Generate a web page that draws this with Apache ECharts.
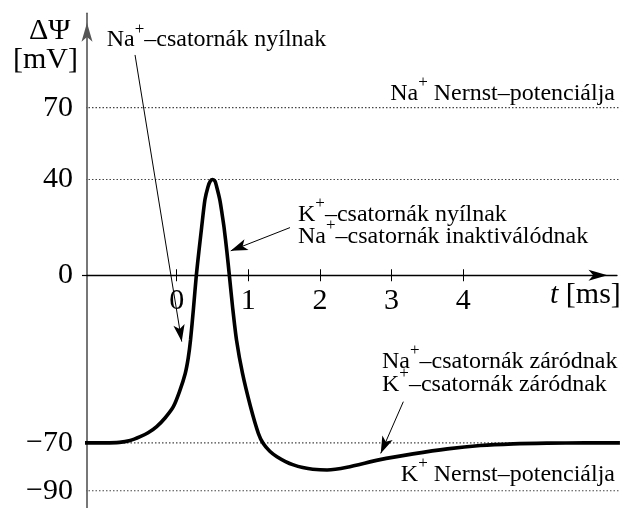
<!DOCTYPE html>
<html>
<head>
<meta charset="utf-8">
<script src="https://cdn.jsdelivr.net/npm/echarts@6/dist/echarts.min.js"></script>
<style>
  html, body { margin: 0; padding: 0; background: #fff; }
  #chart { width: 622px; height: 508px; }
</style>
</head>
<body>
<div id="chart"></div>
<script>
// Action potential: membrane potential (mV) against time (ms)
const timeMs = [-1.33, -1.0, -0.8, -0.65, -0.51, -0.4, -0.28, -0.16, -0.047, 0.04,
  0.119, 0.161, 0.193, 0.235, 0.274, 0.310, 0.348, 0.394, 0.437, 0.468,
  0.503, 0.534, 0.556, 0.602, 0.633, 0.661, 0.700, 0.735, 0.781, 0.835,
  0.919, 1.031, 1.140, 1.209, 1.30, 1.40, 1.52, 1.63, 1.76, 1.90,
  2.10, 2.38, 2.84, 3.30, 3.78, 4.24, 4.70, 5.17, 5.7, 6.19];
const potentialMv = [-70, -70, -69.8, -69.0, -67.4, -65.8, -63.2, -59.5, -54.9, -48.5,
  -41, -34.5, -27, -13.5, 0, 10, 20, 31.5, 37, 39.3,
  40, 39.3, 37.2, 31.5, 25.7, 20, 10, 0, -13.5, -27,
  -41, -54.9, -66, -70.3, -73.5, -75.8, -77.8, -79.2, -80.3, -81,
  -81.3, -80.2, -77, -74.6, -72.5, -71.1, -70.4, -70.1, -70, -70];

// dotted reference levels: Na+ Nernst, peak, resting, K+ Nernst
const levelValues = [70, 40, -70, -90];
const levelSpan = [-1.33, 6.4];

const xTickValues = [0, 1, 2, 3, 4];
const yTickValues = [70, 40, 0, -70, -90];

// annotation arrows: [from, to] in (ms, mV)
const arrowNaOpen = [[-0.582, 92.0], [0.070, -27.7]];
const arrowKOpen = [[1.582, 19.9], [0.754, 10.2]];
const arrowClose = [[3.165, -52.8], [2.849, -74.4]];

const X_MIN = -1.253, X_MAX = 6.149;
const Y_MIN = -97.2, Y_MAX = 109.4;
const GRID = { left: 87, right: 5, top: 13.3, bottom: 0 };
const H = 508;
// pixel row of the zero line, used to shift the time axis onto it
const zeroRow = GRID.top + (Y_MAX / (Y_MAX - Y_MIN)) * (H - GRID.top - GRID.bottom);

const SERIF = "'Liberation Serif', 'DejaVu Serif', serif";

const RICH = {
  n: { fontSize: 24, fontFamily: SERIF, color: '#000', verticalAlign: 'middle' },
  s: { fontSize: 17, fontFamily: SERIF, color: '#000', verticalAlign: 'middle', padding: [0, 0, 22, 0] }
};
const sup = (a, b) => `{n|${a}}{s|+}{n|${b}}`;

function note(x, y, text, align) {
  return {
    type: 'text', x: x, y: y, silent: true,
    style: { text: text, rich: RICH, align: align || 'left', verticalAlign: 'top', fill: '#000' }
  };
}
function plain(x, y, text) {
  return {
    type: 'text', x: x, y: y, silent: true,
    style: { text: text, fontSize: 30, fontFamily: SERIF, fill: '#000', align: 'left', verticalAlign: 'middle' }
  };
}

const arrowData = [arrowNaOpen, arrowKOpen, arrowClose].map(([a, b]) => [
  { coord: a, symbol: 'none' },
  { coord: b, symbol: 'arrow', symbolSize: [8.5, 17] }
]);

const levelSeries = levelValues.map(v => ({
  type: 'line',
  data: [[levelSpan[0], v], [levelSpan[1], v]],
  showSymbol: false,
  clip: false,
  silent: true,
  z: 2,
  lineStyle: { color: '#444', width: 1.1, type: [1.5, 2] }
}));

const chart = echarts.init(document.getElementById('chart'), null, { renderer: 'canvas' });
chart.setOption({
  animation: false,
  backgroundColor: '#fff',
  grid: Object.assign({ containLabel: false, outerBoundsMode: 'none' }, GRID),
  xAxis: [
    {
      type: 'value', min: X_MIN, max: X_MAX, position: 'bottom',
      offset: -(H - GRID.bottom - zeroRow),
      axisLine: {
        show: true, onZero: false, symbol: ['none', 'arrow'], symbolSize: [8.25, 19], symbolOffset: [0, -9.5],
        lineStyle: { color: '#000', width: 1.3 }
      },
      axisTick: { show: true, length: 6, customValues: xTickValues, lineStyle: { color: '#000', width: 1 } },
      axisLabel: { customValues: xTickValues, fontSize: 30, fontFamily: SERIF, color: '#000', margin: 11 },
      splitLine: { show: false }
    },
    {
      type: 'value', min: X_MIN, max: X_MAX, position: 'top',
      offset: -(zeroRow - GRID.top),
      axisLine: { show: true, onZero: false, lineStyle: { color: '#000', opacity: 0 } },
      axisTick: { show: true, length: 6, customValues: xTickValues, lineStyle: { color: '#000', width: 1, opacity: 1 } },
      axisLabel: { show: false },
      splitLine: { show: false }
    }
  ],
  yAxis: {
    type: 'value', min: Y_MIN, max: Y_MAX, position: 'left',
    axisLine: {
      show: true, onZero: false, symbol: ['none', 'arrow'], symbolSize: [8.25, 19], symbolOffset: [0, -9.5],
      lineStyle: { color: '#555', width: 1.6 }
    },
    axisTick: { show: true, length: 5, customValues: [0], lineStyle: { color: '#000', width: 1.2 } },
    axisLabel: {
      customValues: yTickValues, fontSize: 30, fontFamily: SERIF, color: '#000', margin: 14,
      formatter: v => (v < 0 ? '\u2212' + Math.abs(v) : String(v))
    },
    splitLine: { show: false }
  },
  series: [
    ...levelSeries,
    {
      type: 'line',
      data: timeMs.map((t, i) => [t, potentialMv[i]]),
      showSymbol: false,
      smooth: 0.25,
      clip: false,
      silent: true,
      z: 5,
      lineStyle: { color: '#000', width: 3.6 },
      markLine: {
        silent: true,
        animation: false,
        emphasis: { disabled: true },
        label: { show: false },
        lineStyle: { color: '#000', width: 1, type: 'solid' },
        data: arrowData
      }
    }
  ],
  graphic: [
    plain(29, 31.6, '\u0394\u03a8'),
    plain(13, 59.9, '[mV]'),
    {
      type: 'text', x: 550, y: 294.9, silent: true,
      style: {
        text: '{i|t}{r| [ms]}', align: 'left', verticalAlign: 'middle', fill: '#000',
        rich: {
          i: { fontSize: 30, fontFamily: SERIF, fontStyle: 'italic', color: '#000' },
          r: { fontSize: 30, fontFamily: SERIF, color: '#000' }
        }
      }
    },
    note(106.7, 20.7, sup('Na', '–csatornák nyílnak')),
    note(615, 74.4, sup('Na', ' Nernst–potenciálja'), 'right'),
    note(298, 195.4, sup('K', '–csatornák nyílnak')),
    note(298, 217.4, sup('Na', '–csatornák inaktiválódnak')),
    note(382, 342.4, sup('Na', '–csatornák záródnak')),
    note(382, 365.4, sup('K', '–csatornák záródnak')),
    note(615, 455.4, sup('K', ' Nernst–potenciálja'), 'right')
  ]
});
</script>
</body>
</html>
